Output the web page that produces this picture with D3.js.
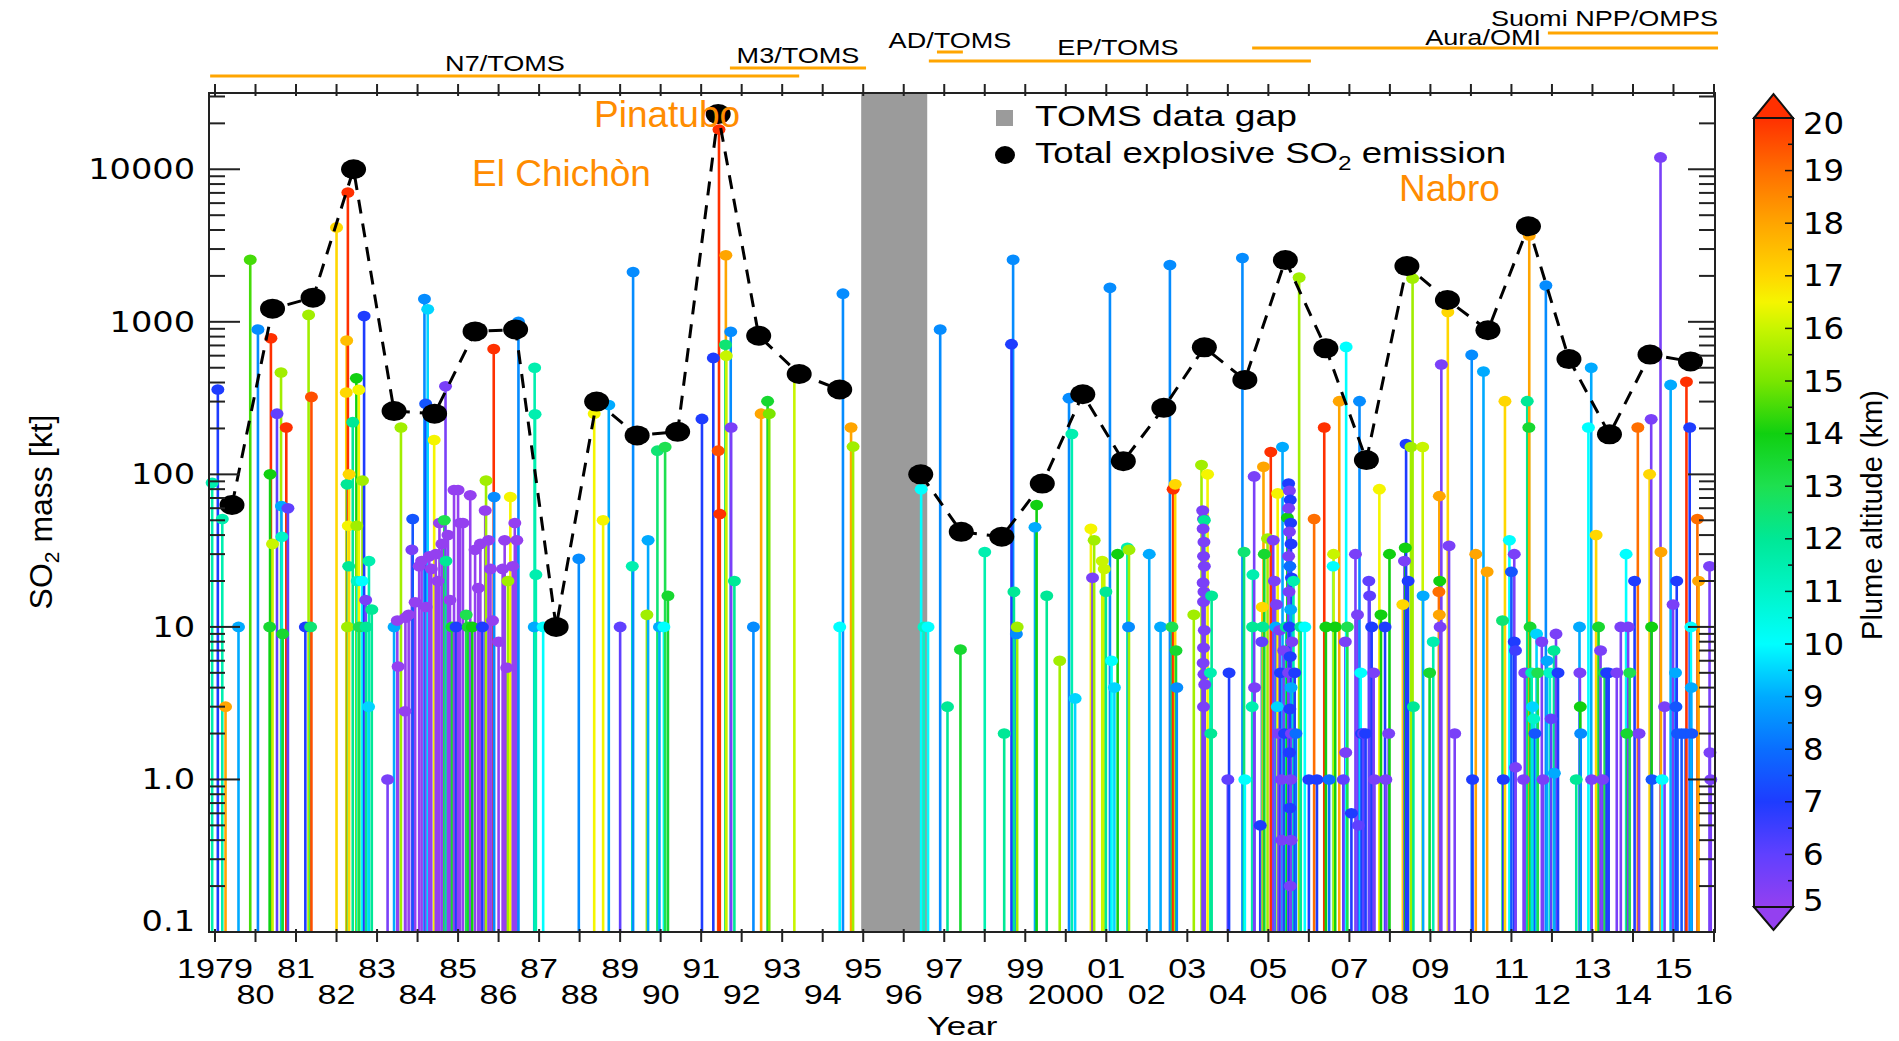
<!DOCTYPE html>
<html>
<head>
<meta charset="utf-8">
<script src="https://cdn.jsdelivr.net/npm/d3@7"></script>
<style>
  body { margin: 0; background: #fff; }
  text { font-family: "Liberation Sans", Arial, sans-serif; fill: #000; }
</style>
</head>
<body>
<svg id="chart" width="1899" height="1041"></svg>
<script>
// ---- data: [year, SO2 mass (kt), plume altitude (km)] ----
const eruptions1979to1986 = [
  [1978.93, 88, 11.5], [1979.07, 360, 7], [1979.18, 51, 11.5], [1979.26, 3.0, 18], [1979.58, 10, 9], [1979.87, 2550, 14.5],
  [1980.06, 890, 8.5], [1980.35, 10, 13.5], [1980.38, 780, 20], [1980.36, 100, 14], [1980.42, 35, 16], [1980.53, 250, 6],
  [1980.63, 465, 15.5], [1980.64, 62, 9], [1980.65, 39, 11], [1980.67, 9, 13.5], [1980.76, 203, 20], [1980.8, 60, 6],
  [1981.23, 10, 7], [1981.31, 1110, 15.5], [1981.36, 10, 12.5], [1981.38, 322, 19.5],
  [1982.0, 4160, 17], [1982.25, 755, 17.5], [1982.24, 344, 17], [1982.26, 86, 12], [1982.27, 10, 15.5], [1982.28, 7050, 20],
  [1982.29, 46, 16.5], [1982.3, 25, 12], [1982.31, 100, 17], [1982.4, 220, 12], [1982.49, 427, 14], [1982.5, 46, 15.5],
  [1982.51, 20, 11], [1982.55, 358, 16.5], [1982.56, 10, 13], [1982.64, 91, 15.5], [1982.63, 20, 10], [1982.68, 1090, 7],
  [1982.72, 15, 5.5], [1982.73, 10, 12], [1982.8, 27, 11.5], [1982.79, 3.0, 9.5], [1982.87, 13, 12],
  [1983.26, 1.0, 5.5], [1983.42, 10, 9], [1983.5, 11, 5], [1983.52, 5.5, 5], [1983.59, 203, 15.5], [1983.69, 2.8, 5],
  [1983.7, 11.5, 5], [1983.78, 12, 5], [1983.86, 32, 5.5], [1983.88, 51, 7.5], [1983.94, 14.5, 5],
  [1984.04, 25, 5], [1984.1, 27, 5], [1984.17, 1410, 8.5], [1984.2, 290, 7.5], [1984.21, 13.5, 5], [1984.25, 1210, 9.5],
  [1984.29, 29, 5], [1984.34, 24, 5], [1984.41, 168, 16.5], [1984.45, 30, 5], [1984.5, 20, 5], [1984.54, 48, 5],
  [1984.6, 35, 5], [1984.66, 50, 13], [1984.69, 378, 5.5], [1984.7, 27, 12], [1984.75, 40, 5], [1984.8, 15, 5],
  [1984.85, 10, 13.5], [1984.9, 79, 5], [1984.95, 10, 7],
  [1985.0, 79, 5], [1985.05, 48, 5], [1985.12, 48, 5], [1985.2, 12, 13], [1985.25, 10, 13.5], [1985.3, 73, 5],
  [1985.35, 10, 14], [1985.42, 32, 5], [1985.5, 18, 5], [1985.55, 35, 5], [1985.6, 10, 7], [1985.67, 58, 5],
  [1985.69, 91, 15.5], [1985.75, 37, 5], [1985.8, 24, 5], [1985.85, 11, 5], [1985.88, 664, 20], [1985.89, 71, 8.5],
  [1986.0, 8, 5], [1986.1, 24, 5], [1986.15, 37, 5], [1986.2, 5.4, 5], [1986.23, 20, 15.5], [1986.29, 71, 16.5],
  [1986.35, 25, 5], [1986.4, 48, 5], [1986.45, 37, 5], [1986.49, 1000, 8.5], [1986.88, 10, 9], [1986.89, 500, 11.5],
  [1986.9, 248, 11.5], [1986.92, 22, 11.5]
];
const eruptions1987to1994 = [
  [1987.1, 10, 10], [1987.98, 28, 8.5], [1988.36, 250, 16.5], [1988.58, 50, 16.5], [1988.72, 285, 9], [1989.0, 10, 6],
  [1989.3, 25, 11.5], [1989.32, 2120, 8.5], [1989.66, 12, 15.5], [1989.69, 37, 9], [1989.92, 143, 12.5], [1989.97, 10, 9],
  [1990.08, 10, 10], [1990.11, 151, 13], [1990.18, 16, 13.5],
  [1991.02, 231, 7], [1991.3, 580, 7], [1991.42, 143, 19.5], [1991.44, 18200, 20], [1991.46, 55, 20], [1991.61, 2730, 18],
  [1991.6, 708, 12.5], [1991.62, 600, 16], [1991.73, 860, 8.5], [1991.74, 203, 5.5], [1991.82, 20, 12],
  [1992.29, 10, 8.5], [1992.48, 250, 18], [1992.64, 302, 13.5], [1992.68, 250, 15], [1993.3, 455, 16],
  [1994.42, 10, 10], [1994.5, 1530, 8.5], [1994.7, 203, 18], [1994.75, 152, 15.5]
];
const eruptions1996to2004 = [
  [1996.43, 80, 10], [1996.5, 10, 11], [1996.6, 10, 10], [1996.9, 890, 8.5], [1997.08, 3.0, 12], [1997.4, 7.1, 13.5],
  [1998.0, 31, 11.5], [1998.48, 2.0, 12], [1998.7, 2550, 8.5], [1998.66, 714, 7], [1998.72, 17, 12], [1998.78, 9, 8.5],
  [1998.8, 10, 15.5], [1999.24, 45, 9], [1999.28, 63, 14], [1999.53, 16, 12], [1999.85, 6.0, 15.5],
  [2000.08, 316, 8.5], [2000.15, 184, 11.5], [2000.23, 3.4, 9.5], [2000.62, 44, 16.5], [2000.66, 21, 5.5], [2000.7, 37, 15.5],
  [2000.9, 27, 16], [2000.95, 24, 16], [2000.99, 17, 12],
  [2001.09, 1670, 8.5], [2001.13, 6, 10], [2001.2, 4, 9.5], [2001.28, 30, 14], [2001.52, 33, 11.5], [2001.55, 10, 8.5],
  [2001.56, 32, 15.5], [2002.06, 30, 9], [2002.34, 10, 9], [2002.57, 2360, 8.5], [2002.62, 10, 13], [2002.65, 80, 20],
  [2002.7, 86, 17], [2002.72, 7, 13.5], [2002.74, 4, 8.5],
  [2003.16, 12, 15.5], [2003.35, 115, 15.5], [2003.38, 58, 5.5], [2003.4, 51, 5.5], [2003.42, 50, 12], [2003.39, 44, 5.5],
  [2003.41, 36, 5.5], [2003.4, 29, 5.5], [2003.42, 25, 5.5], [2003.39, 19.5, 5.5], [2003.41, 17, 5.5], [2003.4, 14.6, 5.5],
  [2003.42, 9.5, 5.5], [2003.4, 7.3, 5.5], [2003.39, 5.8, 5.5], [2003.41, 4.9, 5.5], [2003.43, 4.2, 5.5], [2003.4, 3.0, 5.5],
  [2003.5, 100, 16.5], [2003.6, 16, 12], [2003.57, 5, 11.5], [2003.58, 2, 12],
  [2004.0, 1, 6], [2004.03, 5, 7], [2004.36, 2620, 8.5], [2004.4, 31, 12.5], [2004.42, 1, 10], [2004.6, 3, 11.5],
  [2004.61, 10, 12], [2004.62, 22, 11.5], [2004.65, 97, 5.5], [2004.66, 4, 5.5], [2004.8, 0.5, 7], [2004.84, 8, 6],
  [2004.85, 13.5, 17], [2004.86, 10, 12], [2004.88, 112, 18], [2004.9, 30, 13.5], [2004.98, 38, 15.5]
];
const eruptions2005to2009 = [
  [2005.06, 140, 20], [2005.12, 37, 5.5], [2005.15, 20, 5.5], [2005.18, 10, 9], [2005.2, 14, 5.5], [2005.22, 3, 9.5],
  [2005.23, 75, 16.5], [2005.25, 2, 5.5], [2005.28, 9.5, 5.5], [2005.3, 5, 7], [2005.32, 1, 5.5], [2005.33, 0.4, 5.5],
  [2005.35, 151, 9], [2005.38, 7, 5.5], [2005.4, 2, 7], [2005.44, 10, 12], [2005.47, 52, 14],
  [2005.5, 87, 7], [2005.52, 78, 5.5], [2005.54, 68, 7], [2005.5, 60, 5.5], [2005.55, 48, 7], [2005.52, 42, 5.5],
  [2005.56, 35, 7], [2005.5, 29, 5.5], [2005.53, 25, 8], [2005.57, 21, 7], [2005.51, 17, 5.5], [2005.55, 13, 9],
  [2005.52, 10, 7], [2005.58, 8, 5.5], [2005.54, 6.4, 7], [2005.5, 5, 5.5], [2005.56, 4, 9], [2005.53, 2.9, 7],
  [2005.57, 2, 5.5], [2005.52, 1.5, 7], [2005.55, 1, 5.5], [2005.53, 0.65, 7], [2005.56, 0.4, 5.5], [2005.54, 0.2, 5.5],
  [2005.62, 20, 11.5], [2005.65, 5, 7], [2005.68, 2, 8],
  [2005.76, 1950, 15.5], [2005.8, 10, 12], [2005.9, 10, 10], [2006.0, 1, 7], [2006.13, 51, 19], [2006.2, 1, 7],
  [2006.38, 203, 20], [2006.42, 10, 14], [2006.5, 1, 8], [2006.6, 25, 10], [2006.61, 30, 16], [2006.65, 10, 14],
  [2006.75, 302, 18], [2006.85, 1, 6], [2006.9, 8, 5.5], [2006.91, 1.5, 5.5], [2006.92, 685, 10], [2006.95, 10, 13],
  [2007.05, 0.6, 7], [2007.15, 30, 5.5], [2007.2, 12, 5.5], [2007.22, 0.5, 6], [2007.25, 302, 8.5], [2007.28, 5, 10],
  [2007.3, 2, 7], [2007.35, 2, 6], [2007.4, 2, 7], [2007.48, 20, 6], [2007.5, 16, 6], [2007.55, 10, 7], [2007.6, 5, 5.5],
  [2007.62, 1, 5.5], [2007.74, 80, 16.5], [2007.78, 12, 14], [2007.88, 10, 7], [2007.9, 1, 5.5], [2007.97, 2, 5.5],
  [2007.99, 30, 14],
  [2008.32, 14, 17], [2008.36, 27, 5.5], [2008.38, 33, 14], [2008.4, 158, 7], [2008.45, 20, 7], [2008.52, 151, 15.5],
  [2008.56, 1920, 15.5], [2008.58, 3, 12], [2008.81, 151, 16], [2008.82, 16, 9], [2008.98, 5, 13.5],
  [2009.07, 8, 11.5], [2009.22, 72, 18], [2009.23, 20, 14], [2009.21, 17, 19], [2009.22, 12, 18], [2009.24, 10, 5.5],
  [2009.27, 525, 5.5], [2009.43, 1160, 17], [2009.46, 34, 5.5], [2009.6, 2, 5.5]
];
const eruptions2010to2015 = [
  [2010.02, 607, 8.5], [2010.04, 1, 7], [2010.12, 30, 18], [2010.31, 472, 9], [2010.4, 23, 18], [2010.78, 11, 12.5],
  [2010.8, 1, 7], [2010.84, 302, 17], [2010.95, 37, 10], [2011.0, 23, 7.5], [2011.07, 30, 5.5], [2011.07, 8, 7],
  [2011.1, 7, 6.5], [2011.1, 1.2, 5.5], [2011.3, 1, 5.5], [2011.33, 5, 5.5], [2011.39, 302, 12], [2011.43, 203, 13.5],
  [2011.44, 3680, 18], [2011.46, 10, 13.5], [2011.5, 5, 11.5], [2011.52, 3, 9.5], [2011.55, 2.5, 11], [2011.58, 2, 7.5],
  [2011.62, 9, 9.5], [2011.65, 5, 13], [2011.75, 8, 5.5], [2011.78, 1, 5.5], [2011.85, 1730, 8.5], [2011.88, 6, 9],
  [2011.95, 5, 11], [2011.98, 2.5, 6], [2012.05, 7, 12], [2012.1, 9, 5.5], [2012.06, 1.1, 9], [2012.15, 5, 7],
  [2012.6, 1, 12], [2012.68, 10, 9], [2012.69, 5, 5.5], [2012.7, 3, 14], [2012.71, 2, 8.5], [2012.9, 203, 10],
  [2012.97, 500, 9], [2012.98, 1, 5.5], [2013.09, 40, 17], [2013.15, 10, 13.5], [2013.2, 7, 5.5], [2013.25, 1, 5.5],
  [2013.3, 5, 13], [2013.35, 5, 7], [2013.4, 5, 7], [2013.6, 5, 5.5], [2013.7, 10, 5.5], [2013.83, 30, 10],
  [2013.85, 2, 13.5], [2013.88, 10, 5.5], [2013.92, 5, 13], [2014.04, 20, 7], [2014.12, 203, 19], [2014.15, 2, 5.5],
  [2014.41, 100, 17], [2014.45, 230, 5.5], [2014.46, 10, 14], [2014.47, 1, 7.5], [2014.68, 11960, 5.5], [2014.69, 31, 18],
  [2014.72, 1, 10], [2014.78, 3, 5.5], [2014.93, 386, 9], [2014.99, 14, 5.5], [2015.05, 5, 9], [2015.06, 3, 7.5],
  [2015.08, 20, 7], [2015.1, 2, 7.5], [2015.2, 2, 7.5], [2015.3, 2, 7.5], [2015.45, 2, 7.5], [2015.32, 405, 20],
  [2015.4, 203, 7], [2015.43, 10, 10], [2015.44, 4, 9], [2015.59, 51, 19], [2015.62, 20, 18], [2015.89, 25, 5.5],
  [2015.9, 1.5, 5.5], [2015.92, 1, 5.5]
];

// yearly total explosive SO2 (black dots)
const totalYears = [1979, 1980, 1981, 1982, 1983, 1984, 1985, 1986, 1987, 1988, 1989, 1990, 1991, 1992, 1993, 1994,
  1996, 1997, 1998, 1999, 2000, 2001, 2002, 2003, 2004, 2005, 2006, 2007, 2008, 2009, 2010, 2011, 2012, 2013, 2014, 2015];
const totalMass = [63, 1220, 1440, 10000, 260, 250, 865, 890, 10, 300, 180, 190, 23000, 810, 455, 360,
  100, 42, 39, 87, 335, 122, 273, 680, 416, 2540, 670, 124, 2320, 1390, 880, 4230, 570, 183, 610, 550];

// satellite instrument records
const satellites = [
  ["N7/TOMS", 1978.88, 1993.42],
  ["M3/TOMS", 1991.71, 1995.07],
  ["AD/TOMS", 1996.82, 1997.46],
  ["EP/TOMS", 1996.62, 2006.05],
  ["Aura/OMI", 2004.6, 2016.1],
  ["Suomi NPP/OMPS", 2011.9, 2016.1]
];
const gapYears = [1994.95, 1996.58];

const yTickValues = [10000, 1000, 100, 10, 1, 0.1];
const yTickLabels = ["10000", "1000", "100", "10", "1.0", "0.1"];
const altTicks = [20, 19, 18, 17, 16, 15, 14, 13, 12, 11, 10, 9, 8, 7, 6, 5];

// rainbow colour table of the altitude bar
const altStops = [5, 6, 7, 8, 9, 10, 11, 12, 13, 14, 15, 16, 16.5, 17, 18, 19, 20];
const altColors = ["#9440f0", "#6040ff", "#1e3cff", "#0a6eff", "#00aaff", "#00ffff", "#00f5c8", "#00e896",
  "#1ee050", "#10d010", "#7ae600", "#c8f500", "#f5f500", "#ffd700", "#ffa500", "#ff6e00", "#ff3000"];

// ---------------------------------------------------------------------------
const svg = d3.select("#chart");
const plot = {left: 209, right: 1715, top: 93, bottom: 932};

const x = d3.scaleLinear().domain([1979, 2016]).range([215, 1714]);
const y = d3.scaleLog().domain([0.1, Math.pow(10, 4.5)]).range([plot.bottom, plot.top]);
const altColor = d3.scaleLinear().domain(altStops).range(altColors).clamp(true);

const eruptions = [].concat(eruptions1979to1986, eruptions1987to1994, eruptions1996to2004,
  eruptions2005to2009, eruptions2010to2015);

// text helper: horizontally stretched like the original figure
function stext(g, px, py, str, size, sx, anchor) {
  return g.append("text")
    .attr("transform", `translate(${px},${py}) scale(${sx},1)`)
    .attr("text-anchor", anchor || "start")
    .style("font-size", size + "px")
    .text(str);
}

// data gap
svg.append("rect")
  .attr("x", x(gapYears[0])).attr("y", plot.top)
  .attr("width", x(gapYears[1]) - x(gapYears[0]))
  .attr("height", plot.bottom - plot.top)
  .attr("fill", "#9b9b9b");

// stems
svg.append("g")
  .selectAll("line")
  .data(eruptions)
  .join("line")
    .attr("x1", d => x(d[0])).attr("x2", d => x(d[0]))
    .attr("y1", plot.bottom).attr("y2", d => y(d[1]))
    .attr("stroke", d => altColor(d[2]))
    .attr("stroke-width", 2.6);

// stem heads
svg.append("g")
  .selectAll("ellipse")
  .data(eruptions)
  .join("ellipse")
    .attr("cx", d => x(d[0]))
    .attr("cy", d => y(d[1]))
    .attr("rx", 6.5).attr("ry", 5.3)
    .attr("fill", d => altColor(d[2]));

// yearly totals: dashed line, broken across the data gap
const totals = totalYears.map((yr, i) => ({yr: yr, v: totalMass[i]}));
const segments = [totals.filter(d => d.yr < 1995), totals.filter(d => d.yr > 1995)];
const line = d3.line().x(d => x(d.yr + 0.42)).y(d => y(d.v));
svg.append("g")
  .selectAll("path")
  .data(segments)
  .join("path")
    .attr("d", line)
    .attr("fill", "none")
    .attr("stroke", "#000")
    .attr("stroke-width", 3)
    .style("stroke-dasharray", "14,10");

svg.append("g")
  .selectAll("ellipse")
  .data(totals)
  .join("ellipse")
    .attr("cx", d => x(d.yr + 0.42))
    .attr("cy", d => y(d.v))
    .attr("rx", 12.5).attr("ry", 10)
    .attr("fill", "#000");

// frame
svg.append("rect")
  .attr("x", plot.left).attr("y", plot.top)
  .attr("width", plot.right - plot.left).attr("height", plot.bottom - plot.top)
  .attr("fill", "none").attr("stroke", "#222").attr("stroke-width", 2);

// year ticks, top and bottom
const years = d3.range(1979, 2017);
const axes = svg.append("g").attr("stroke", "#222").attr("stroke-width", 2);
axes.selectAll("line.top")
  .data(years)
  .join("line")
    .attr("x1", d => x(d)).attr("x2", d => x(d))
    .attr("y1", plot.top - 9).attr("y2", plot.top + 3);
axes.selectAll("line.bottom")
  .data(years)
  .join("line")
    .attr("x1", d => x(d)).attr("x2", d => x(d))
    .attr("y1", plot.bottom - 3).attr("y2", plot.bottom + 10);

// log ticks on both sides, pointing inwards
const yTicks = [];
for (let e = -1; e <= 4; e++) {
  for (let k = 1; k <= 9; k++) {
    const v = k * Math.pow(10, e);
    if (v <= Math.pow(10, 4.5)) yTicks.push({v: v, major: k === 1});
  }
}
axes.selectAll("line.left")
  .data(yTicks)
  .join("line")
    .attr("x1", plot.left).attr("x2", d => plot.left + (d.major ? 31 : 16))
    .attr("y1", d => y(d.v)).attr("y2", d => y(d.v));
axes.selectAll("line.right")
  .data(yTicks)
  .join("line")
    .attr("x1", plot.right).attr("x2", d => plot.right - (d.major ? 27 : 16))
    .attr("y1", d => y(d.v)).attr("y2", d => y(d.v));

// tick labels
const labels = svg.append("g");
years.forEach(yr => {
  let lab = yr === 1979 || yr === 2000 ? String(yr) : String(yr % 100).padStart(2, "0");
  const odd = yr % 2 === 1;
  stext(labels, x(yr), odd ? 978 : 1004, lab, 28, 1.22, "middle");
});
yTickValues.forEach((v, i) => {
  stext(labels, 195, y(v) + (v === 0.1 ? -11 : 0), yTickLabels[i], 28, 1.2, "end")
    .style("font-family", "'DejaVu Sans', sans-serif")
    .attr("dominant-baseline", "central");
});

stext(labels, (plot.left + plot.right) / 2, 1035, "Year", 25, 1.4, "middle");

const ytitle = labels.append("text")
  .attr("transform", "translate(52,512) rotate(-90)")
  .attr("text-anchor", "middle")
  .style("font-size", "32px");
ytitle.append("tspan").text("SO");
ytitle.append("tspan").text("2").style("font-size", "21px").attr("dy", 7);
ytitle.append("tspan").text(" mass [kt]").attr("dy", -7);

// satellite records above the plot
const satLayout = {
  "N7/TOMS":        {ly: 76, tx: 505, ty: 71, anchor: "middle"},
  "M3/TOMS":        {ly: 68, tx: 798, ty: 63, anchor: "middle"},
  "AD/TOMS":        {ly: 52, tx: 950, ty: 48, anchor: "middle"},
  "EP/TOMS":        {ly: 61, tx: 1118, ty: 55, anchor: "middle"},
  "Aura/OMI":       {ly: 48, tx: 1541, ty: 45, anchor: "end"},
  "Suomi NPP/OMPS": {ly: 33, tx: 1718, ty: 26, anchor: "end"}
};
const sats = svg.append("g");
satellites.forEach(s => {
  const L = satLayout[s[0]];
  sats.append("line")
    .attr("x1", Math.max(x(s[1]), plot.left)).attr("x2", x(s[2]))
    .attr("y1", L.ly).attr("y2", L.ly)
    .attr("stroke", "#ffa500").attr("stroke-width", 3);
  stext(sats, L.tx, L.ty, s[0], 22, 1.23, L.anchor);
});

// legend
const legend = svg.append("g");
legend.append("rect").attr("x", 996).attr("y", 110).attr("width", 17).attr("height", 16).attr("fill", "#9b9b9b");
stext(legend, 1035, 126, "TOMS data gap", 30, 1.24, "start");
legend.append("ellipse").attr("cx", 1005).attr("cy", 155).attr("rx", 10).attr("ry", 9).attr("fill", "#000");
const lt = legend.append("text")
  .attr("transform", "translate(1035,163) scale(1.22,1)")
  .style("font-size", "30px");
lt.append("tspan").text("Total explosive SO");
lt.append("tspan").text("2").style("font-size", "20px").attr("dy", 7);
lt.append("tspan").text(" emission").attr("dy", -7);

// volcano names
const volc = svg.append("g").style("font-size", "37px");
volc.append("text").attr("x", 594).attr("y", 127).style("fill", "#ff8c00").text("Pinatubo");
volc.append("text").attr("x", 472).attr("y", 186).style("fill", "#ff8c00").text("El Chichòn");
volc.append("text").attr("x", 1399).attr("y", 201).style("fill", "#ff8c00").text("Nabro");

// ---- colour bar ----
const cbar = {x: 1754, w: 39, top: 118, bottom: 907};
const cy = d3.scaleLinear().domain([5, 20]).range([cbar.bottom, cbar.top]);
const grad = svg.append("defs").append("linearGradient")
  .attr("id", "altgrad").attr("x1", 0).attr("x2", 0).attr("y1", 1).attr("y2", 0);
grad.selectAll("stop")
  .data(altStops)
  .join("stop")
    .attr("offset", d => (d - 5) / 15)
    .attr("stop-color", d => altColor(d));

const cb = svg.append("g");
cb.append("rect")
  .attr("x", cbar.x).attr("y", cbar.top)
  .attr("width", cbar.w).attr("height", cbar.bottom - cbar.top)
  .attr("fill", "url(#altgrad)").attr("stroke", "#111").attr("stroke-width", 2);
const mid = cbar.x + cbar.w / 2;
cb.append("path")
  .attr("d", `M${cbar.x},${cbar.top} L${mid},${cbar.top - 24} L${cbar.x + cbar.w},${cbar.top} Z`)
  .attr("fill", altColor(20)).attr("stroke", "#111").attr("stroke-width", 2);
cb.append("path")
  .attr("d", `M${cbar.x},${cbar.bottom} L${mid},${cbar.bottom + 23} L${cbar.x + cbar.w},${cbar.bottom} Z`)
  .attr("fill", altColor(5)).attr("stroke", "#111").attr("stroke-width", 2);

cb.selectAll("line")
  .data(d3.range(5, 20.01, 0.5))
  .join("line")
    .attr("x1", cbar.x + cbar.w).attr("x2", d => cbar.x + cbar.w - (d % 1 === 0 ? 8 : 5))
    .attr("y1", d => cy(d)).attr("y2", d => cy(d))
    .attr("stroke", "#111").attr("stroke-width", 1.5);

altTicks.forEach(v => {
  const off = v === 20 ? 5 : (v === 5 ? -7 : 0);
  stext(cb, 1803, cy(v) + off, String(v), 30, 1.08, "start")
    .style("font-family", "'DejaVu Sans', sans-serif")
    .attr("dominant-baseline", "central");
});

cb.append("text")
  .attr("transform", "translate(1882,515) rotate(-90)")
  .attr("text-anchor", "middle")
  .style("font-size", "29px")
  .text("Plume altitude (km)");
</script>
</body>
</html>
